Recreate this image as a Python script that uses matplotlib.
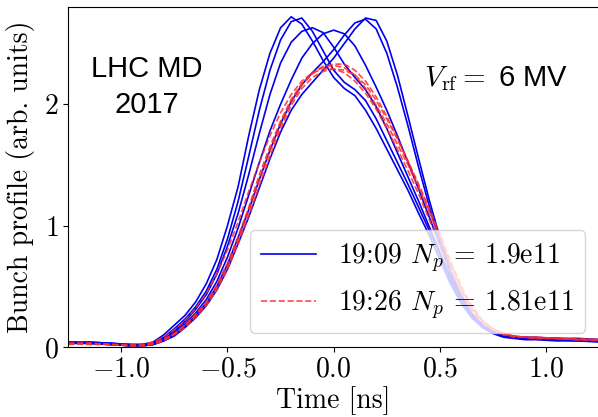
import matplotlib
matplotlib.use("Agg")
import matplotlib.pyplot as plt

plt.rcParams["font.family"] = "serif"
plt.rcParams["font.serif"] = ["cmr10"]
plt.rcParams["mathtext.fontset"] = "cm"
plt.rcParams["axes.formatter.use_mathtext"] = True
plt.rcParams["font.size"] = 20

t = [-1.25, -1.15, -1.05, -0.95, -0.9, -0.85, -0.8, -0.75, -0.7, -0.65, -0.6,
     -0.55, -0.5, -0.45, -0.4, -0.35, -0.3, -0.25, -0.2, -0.15, -0.1, -0.05,
     0.0, 0.05, 0.1, 0.15, 0.2, 0.25, 0.3, 0.35, 0.4, 0.45, 0.5, 0.55, 0.6,
     0.65, 0.7, 0.75, 0.8, 0.85, 0.9, 0.95, 1.05, 1.15, 1.25]

# 19:09 profiles (blue)
b1 = [0.04, 0.04, 0.03, 0.02, 0.02, 0.04, 0.10, 0.18, 0.26, 0.37, 0.52,
      0.72, 1.00, 1.32, 1.74, 2.12, 2.42, 2.63, 2.72, 2.66, 2.52, 2.36,
      2.22, 2.13, 2.07, 1.95, 1.80, 1.63, 1.46, 1.29, 1.10, 0.92, 0.72, 0.52, 0.36,
      0.24, 0.16, 0.11, 0.08, 0.07, 0.06, 0.06, 0.05, 0.05, 0.04]
b2 = [0.03, 0.04, 0.03, 0.02, 0.02, 0.03, 0.08, 0.15, 0.23, 0.33, 0.46,
      0.64, 0.89, 1.20, 1.57, 1.95, 2.28, 2.53, 2.68, 2.71, 2.60, 2.44,
      2.28, 2.18, 2.12, 2.03, 1.88, 1.70, 1.52, 1.34, 1.15, 0.96, 0.76, 0.55, 0.38,
      0.25, 0.17, 0.12, 0.09, 0.08, 0.07, 0.07, 0.06, 0.05, 0.05]
b3 = [0.04, 0.03, 0.03, 0.01, 0.02, 0.03, 0.07, 0.13, 0.21, 0.31, 0.43,
      0.60, 0.83, 1.10, 1.42, 1.76, 2.08, 2.34, 2.51, 2.60, 2.63, 2.59,
      2.47, 2.33, 2.22, 2.12, 1.98, 1.80, 1.60, 1.40, 1.20, 0.99, 0.78, 0.57, 0.40,
      0.27, 0.18, 0.13, 0.10, 0.08, 0.07, 0.07, 0.06, 0.06, 0.05]
b4 = [0.03, 0.03, 0.02, 0.01, 0.01, 0.02, 0.06, 0.12, 0.19, 0.28, 0.39,
      0.54, 0.74, 0.98, 1.25, 1.52, 1.78, 2.00, 2.20, 2.38, 2.50, 2.58,
      2.61, 2.58, 2.48, 2.32, 2.14, 1.95, 1.74, 1.52, 1.30, 1.07, 0.84, 0.62, 0.43,
      0.28, 0.18, 0.12, 0.09, 0.08, 0.07, 0.07, 0.07, 0.06, 0.06]
b5 = [0.03, 0.03, 0.02, 0.01, 0.01, 0.02, 0.05, 0.10, 0.17, 0.26, 0.36,
      0.50, 0.68, 0.90, 1.13, 1.38, 1.62, 1.84, 2.02, 2.16, 2.26, 2.35,
      2.45, 2.57, 2.67, 2.70, 2.62, 2.42, 2.14, 1.82, 1.48, 1.16, 0.86, 0.60, 0.40,
      0.26, 0.17, 0.12, 0.09, 0.08, 0.08, 0.07, 0.07, 0.06, 0.06]
b6 = [0.04, 0.03, 0.02, 0.01, 0.01, 0.02, 0.05, 0.09, 0.16, 0.24, 0.34,
      0.47, 0.64, 0.85, 1.07, 1.31, 1.55, 1.77, 1.95, 2.08, 2.18, 2.28,
      2.38, 2.50, 2.62, 2.71, 2.69, 2.52, 2.24, 1.90, 1.55, 1.21, 0.90, 0.63, 0.42,
      0.27, 0.18, 0.12, 0.09, 0.08, 0.08, 0.08, 0.07, 0.07, 0.06]

# 19:26 profiles (red)
r1 = [0.03, 0.03, 0.02, 0.01, 0.01, 0.03, 0.06, 0.11, 0.18, 0.27, 0.37,
      0.51, 0.69, 0.91, 1.15, 1.42, 1.65, 1.86, 2.04, 2.17, 2.26, 2.31,
      2.32, 2.30, 2.24, 2.13, 1.99, 1.84, 1.67, 1.50, 1.31, 1.11, 0.90, 0.68, 0.48,
      0.32, 0.21, 0.15, 0.11, 0.09, 0.08, 0.08, 0.07, 0.06, 0.06]
r2 = [0.03, 0.03, 0.02, 0.02, 0.02, 0.04, 0.08, 0.14, 0.22, 0.32, 0.44,
      0.60, 0.80, 1.03, 1.28, 1.52, 1.74, 1.93, 2.08, 2.19, 2.26, 2.29,
      2.29, 2.26, 2.19, 2.09, 1.96, 1.80, 1.63, 1.45, 1.26, 1.05, 0.84, 0.63, 0.45,
      0.30, 0.20, 0.14, 0.10, 0.09, 0.08, 0.07, 0.07, 0.06, 0.05]
r3 = [0.03, 0.02, 0.02, 0.01, 0.01, 0.02, 0.05, 0.10, 0.16, 0.24, 0.34,
      0.47, 0.64, 0.85, 1.08, 1.33, 1.57, 1.80, 1.99, 2.13, 2.22, 2.27,
      2.29, 2.28, 2.24, 2.16, 2.03, 1.88, 1.71, 1.53, 1.34, 1.14, 0.93, 0.71, 0.50,
      0.34, 0.22, 0.15, 0.11, 0.09, 0.08, 0.08, 0.07, 0.07, 0.06]
r4 = [0.02, 0.03, 0.02, 0.01, 0.01, 0.03, 0.06, 0.11, 0.18, 0.26, 0.36,
      0.49, 0.66, 0.88, 1.12, 1.38, 1.62, 1.83, 2.02, 2.16, 2.25, 2.31,
      2.33, 2.33, 2.28, 2.19, 2.06, 1.90, 1.72, 1.53, 1.33, 1.12, 0.90, 0.68, 0.48,
      0.32, 0.21, 0.14, 0.10, 0.08, 0.08, 0.07, 0.07, 0.06, 0.06]

blue = [b1, b2, b3, b4, b5, b6]
red = [r1, r2, r3, r4]

fig = plt.figure(figsize=(5.98, 4.17), dpi=100)
ax = fig.add_axes([0.114, 0.168, 0.888, 0.815])

for i, y in enumerate(blue):
    ax.plot(t, y, color="#0000ee", lw=1.2,
            label="19:09 $N_p$ = 1.9e11" if i == 0 else None)
for i, y in enumerate(red):
    ax.plot(t, y, color="#ff2a2a", lw=1.2, ls="--", alpha=0.85,
            label="19:26 $N_p$ = 1.81e11" if i == 0 else None)

ax.set_xlim(-1.25, 1.25)
ax.set_ylim(0, 2.8)
ax.set_xticks([-1.0, -0.5, 0.0, 0.5, 1.0])
ax.set_yticks([0, 1, 2])
ax.set_xlabel("Time [ns]", labelpad=2)
ax.set_ylabel("Bunch profile (arb. units)", labelpad=6)

ax.text(-0.88, 2.14, "LHC MD\n2017", family="Liberation Sans", fontsize=21,
        ha="center", va="center", linespacing=1.35)
ax.text(0.765, 2.21, r"$V_{\mathrm{rf}} =$ 6 MV", family="Liberation Sans",
        fontsize=21, ha="center", va="center")

ax.legend(loc="lower right", fontsize=20, framealpha=0.8)

fig.savefig("out.png", dpi=100)
